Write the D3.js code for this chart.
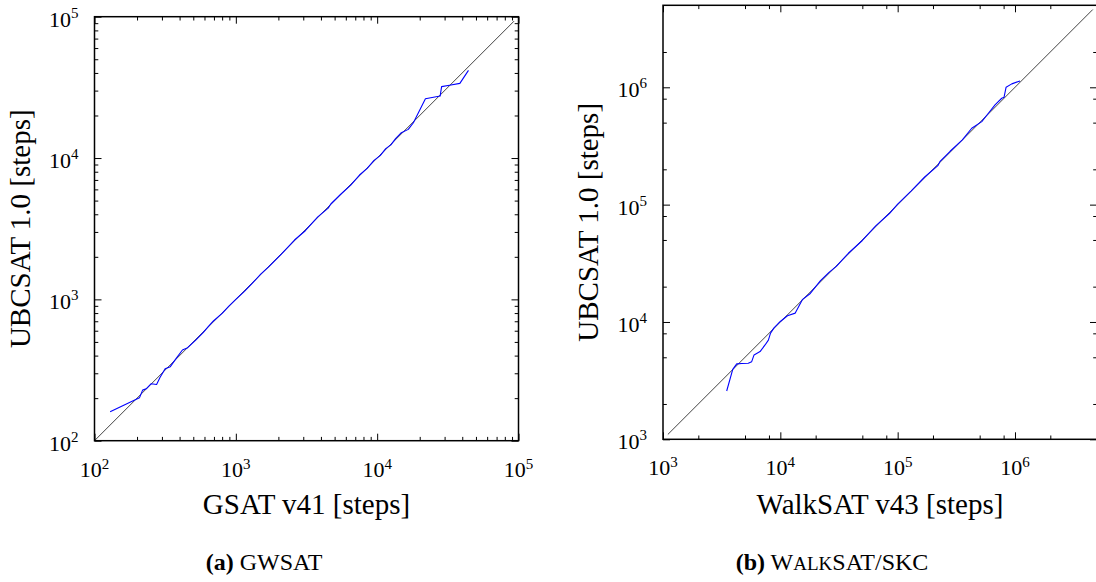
<!DOCTYPE html>
<html><head><meta charset="utf-8">
<script src="https://cdn.jsdelivr.net/npm/d3@7"></script>
<style>
body{margin:0;background:#fff}
svg{display:block}
text{font-family:"Liberation Serif","Times New Roman",serif;fill:#000}
</style>
</head><body>
<svg id="c" width="1096" height="582"></svg>
<script>
// ---- data ----
const gwsatX = [129, 208, 219, 232, 252, 275, 290, 316, 344, 374, 419, 456, 520, 587, 640, 694, 800, 893, 1000, 1150, 1300, 1500, 1700, 2100, 2600, 3100, 3800, 4500, 4700, 5500, 6500, 7500, 8500, 9500, 10500, 11500, 12500, 13500, 14830, 16600, 18040, 21950, 27900, 28570, 32500, 38460, 44260];
const gwsatY = [160, 201, 228, 233, 253, 250, 279, 323, 334, 376, 438, 455, 515, 581, 645, 703, 795, 897, 1000, 1140, 1290, 1510, 1690, 2090, 2630, 3060, 3830, 4420, 4730, 5520, 6440, 7580, 8450, 9620, 10400, 11650, 12400, 13700, 15100, 15950, 17780, 26300, 27450, 32000, 32700, 33750, 41700];

const walksatX = [3490, 3930, 4250, 4700, 5330, 5700, 5970, 6720, 7410, 7910, 8250, 8830, 10000, 11500, 13400, 15400, 18000, 22000, 26000, 30000, 38000, 50000, 65000, 85000, 100000, 130000, 170000, 220000, 230000, 280000, 356000, 428000, 521000, 600000, 676000, 771000, 807000, 840000, 939000, 1104000];
const walksatY = [2580, 3950, 4390, 4420, 4450, 4590, 5240, 5590, 6370, 7010, 8030, 8910, 10100, 11300, 11900, 15500, 17500, 22500, 26500, 29800, 38500, 49500, 66000, 84000, 101000, 130500, 172000, 215000, 234000, 285000, 356500, 447700, 510000, 610000, 708000, 807000, 824000, 1003000, 1070000, 1133000];

const leftMajorTicks = [1e2, 1e3, 1e4, 1e5];
const leftTickExponents = ["2", "3", "4", "5"];
const leftMinorMultipliers = [2, 3, 4, 5, 6, 7, 8, 9];
const rightMajorTicks = [1e3, 1e4, 1e5, 1e6];
const rightTickExponents = ["3", "4", "5", "6"];
const rightMinorMultipliers = [2, 5, 8];

const leftDomain = [1e2, 1e5];
const rightDomain = [1e3, 5e6];
const leftDiagonal = [1e2, 9.3e4];
const rightDiagonal = [1.1e3, 4.6e6];

const svg = d3.select("#c");

function minorTicks(majors, mults, domain) {
  const out = [];
  majors.forEach(m => mults.forEach(k => { const v = m * k; if (v < domain[1]) out.push(v); }));
  return out;
}

function panel(cfg) {
  const x = d3.scaleLog().domain(cfg.domain).range([cfg.x0, cfg.x1]);
  const y = d3.scaleLog().domain(cfg.domain).range([cfg.y1, cfg.y0]);
  const g = svg.append("g");
  const minors = minorTicks(cfg.major, cfg.mults, cfg.domain);

  const axisDefs = [
    [d3.axisBottom, x, `translate(0,${cfg.y1})`],
    [d3.axisTop, x, `translate(0,${cfg.y0})`],
    [d3.axisLeft, y, `translate(${cfg.x0},0)`],
    [d3.axisRight, y, `translate(${cfg.x1},0)`]
  ];
  axisDefs.forEach(([fn, sc, tr]) => {
    [[cfg.major, 7], [minors, 3.8]].forEach(([vals, len]) => {
      const a = g.append("g").attr("transform", tr)
        .call(fn(sc).tickValues(vals).tickSize(-len).tickSizeOuter(0).tickFormat(""));
      a.select(".domain").remove();
      a.selectAll(".tick line").attr("stroke", "#000").attr("stroke-width", 1);
    });
  });

  // diagonal
  g.append("line")
    .attr("x1", x(cfg.diag[0])).attr("y1", y(cfg.diag[0]))
    .attr("x2", x(cfg.diag[1])).attr("y2", y(cfg.diag[1]))
    .attr("stroke", "#111").attr("stroke-width", 0.8);

  // data line
  const pts = cfg.xs.map((v, i) => [v, cfg.ys[i]]);
  g.append("path").datum(pts)
    .attr("d", d3.line().x(d => x(d[0])).y(d => y(d[1])))
    .attr("fill", "none").attr("stroke", "#0000ff").attr("stroke-width", 1.1)
    .attr("stroke-linejoin", "round");

  // frame
  g.append("rect")
    .attr("x", cfg.x0).attr("y", cfg.y0)
    .attr("width", cfg.x1 - cfg.x0).attr("height", cfg.y1 - cfg.y0)
    .attr("fill", "none").attr("stroke", "#000").attr("stroke-width", 1.5);

  // tick labels
  cfg.major.forEach((v, i) => {
    const t = g.append("text").attr("x", x(v)).attr("y", cfg.y1 + 36)
      .attr("text-anchor", "middle").style("font-size", "22px");
    t.append("tspan").text("10");
    t.append("tspan").attr("dy", -8).style("font-size", "15px").text(cfg.exps[i]);
    const t2 = g.append("text").attr("x", cfg.x0 - 16).attr("y", y(v) + 10)
      .attr("text-anchor", "end").style("font-size", "22px");
    t2.append("tspan").text("10");
    t2.append("tspan").attr("dy", -9).style("font-size", "15px").text(cfg.exps[i]);
  });

  // axis titles
  g.append("text").attr("x", (cfg.x0 + cfg.x1) / 2).attr("y", 514)
    .attr("text-anchor", "middle").style("font-size", "29px").text(cfg.xTitle);
  g.append("text")
    .attr("transform", `translate(${cfg.yTitleX},${(cfg.y0 + cfg.y1) / 2}) rotate(-90)`)
    .attr("text-anchor", "middle").style("font-size", "29px").text("UBCSAT 1.0 [steps]");
}

panel({
  x0: 94.5, x1: 518.5, y0: 16.7, y1: 440.7,
  domain: leftDomain, major: leftMajorTicks, exps: leftTickExponents, mults: leftMinorMultipliers,
  diag: leftDiagonal, xs: gwsatX, ys: gwsatY,
  xTitle: "GSAT v41 [steps]", yTitleX: 30
});
panel({
  x0: 663, x1: 1097, y0: 5.3, y1: 439.3,
  domain: rightDomain, major: rightMajorTicks, exps: rightTickExponents, mults: rightMinorMultipliers,
  diag: rightDiagonal, xs: walksatX, ys: walksatY,
  xTitle: "WalkSAT v43 [steps]", yTitleX: 598
});

// captions
const capA = svg.append("text").attr("x", 264).attr("y", 570).attr("text-anchor", "middle").style("font-size", "24px");
capA.append("tspan").style("font-weight", "bold").text("(a)");
capA.append("tspan").text(" GWSAT");

const capB = svg.append("text").attr("x", 832).attr("y", 570).attr("text-anchor", "middle").style("font-size", "24px");
capB.append("tspan").style("font-weight", "bold").text("(b)");
capB.append("tspan").text(" W");
capB.append("tspan").style("font-size", "19px").text("ALK");
capB.append("tspan").text("SAT/SKC");
</script>
</body></html>
